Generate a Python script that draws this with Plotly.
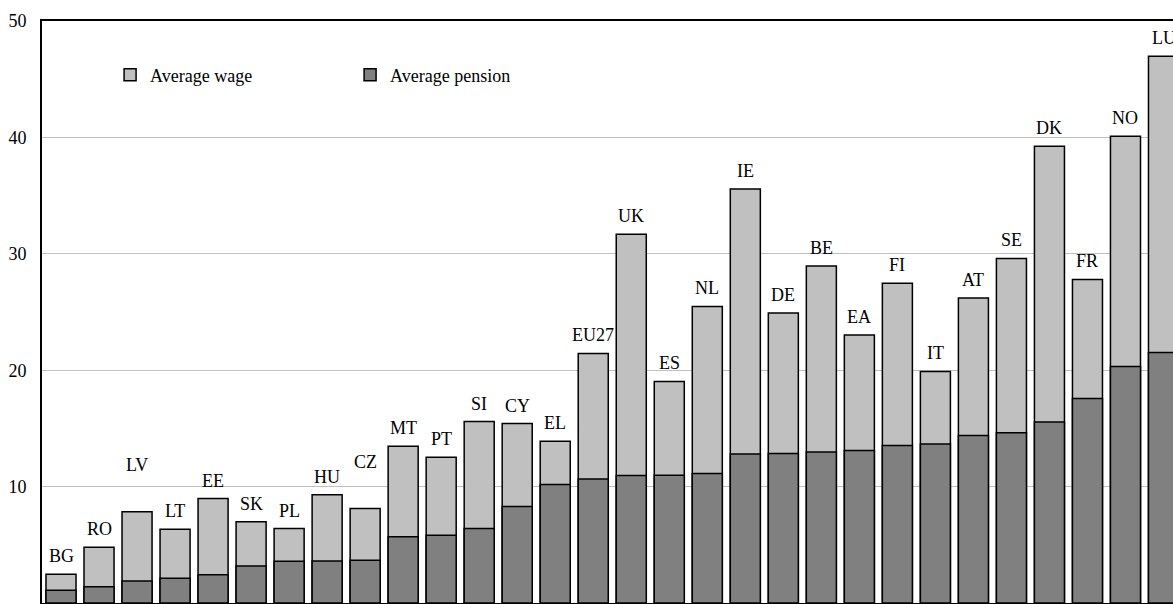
import plotly.graph_objects as go

countries = ["BG", "RO", "LV", "LT", "EE", "SK", "PL", "HU", "CZ", "MT",
             "PT", "SI", "CY", "EL", "EU27", "UK", "ES", "NL", "IE", "DE",
             "BE", "EA", "FI", "IT", "AT", "SE", "DK", "FR", "NO", "LU"]
average_wage = [2.47, 4.79, 7.85, 6.34, 8.97, 6.99, 6.39, 9.29, 8.11, 13.47,
                12.53, 15.59, 15.42, 13.9, 21.44, 31.67, 19.03, 25.48, 35.57, 24.91,
                28.95, 23.02, 27.46, 19.89, 26.2, 29.6, 39.24, 27.8, 40.09, 46.97]
average_pension = [1.09, 1.40, 1.89, 2.12, 2.43, 3.18, 3.59, 3.61, 3.67, 5.70,
                   5.82, 6.39, 8.28, 10.17, 10.66, 10.95, 10.98, 11.12, 12.79, 12.84,
                   12.98, 13.1, 13.53, 13.65, 14.39, 14.62, 15.54, 17.57, 20.32, 21.52]
y_ticks = [0, 10, 20, 30, 40, 50]

FONT = "Liberation Serif"
raised_labels = {"LV", "CZ"}

fig = go.Figure()
fig.add_trace(go.Bar(
    x=countries, y=average_wage, name="Average wage",
    marker=dict(color="#C0C0C0", line=dict(color="#000000", width=1.5)),
    width=0.79,
))
fig.add_trace(go.Bar(
    x=countries, y=average_pension, name="Average pension",
    marker=dict(color="#808080", line=dict(color="#000000", width=1.5)),
    width=0.79,
))

for c, w in zip(countries, average_wage):
    fig.add_annotation(
        x=c, y=w, text=c, showarrow=False, yanchor="bottom",
        yshift=(35 if c in raised_labels else 6),
        font=dict(family=FONT, size=18, color="#000000"),
    )

fig.update_layout(
    width=1173, height=604,
    margin=dict(l=42, r=0, t=21, b=1, autoexpand=False),
    barmode="overlay",
    plot_bgcolor="#FFFFFF", paper_bgcolor="#FFFFFF",
    font=dict(family=FONT, size=18, color="#000000"),
    showlegend=True,
    legend=dict(
        orientation="h", x=0.0602, y=0.907, xanchor="left", yanchor="middle",
        bgcolor="rgba(0,0,0,0)", entrywidth=195, itemwidth=30,
        font=dict(family=FONT, size=18, color="#000000"),
    ),
    xaxis=dict(
        type="category", range=[-0.5, 29.25], showticklabels=False,
        showgrid=False, showline=True, linecolor="#000000", linewidth=2,
        mirror=True, ticks="", zeroline=False, automargin=False,
    ),
    yaxis=dict(
        range=[0, 50], tickvals=y_ticks, showgrid=True, gridcolor="#C0C0C0",
        gridwidth=1, showline=True, linecolor="#000000", linewidth=2,
        ticks="", zeroline=False, ticklabelstandoff=10, automargin=False,
        tickfont=dict(family=FONT, size=18, color="#000000"),
    ),
)

fig.write_html(
    "out.html",
    config={"displayModeBar": False},
    post_script="document.body.style.margin='0';"
                "document.documentElement.style.overflow='hidden';",
)
